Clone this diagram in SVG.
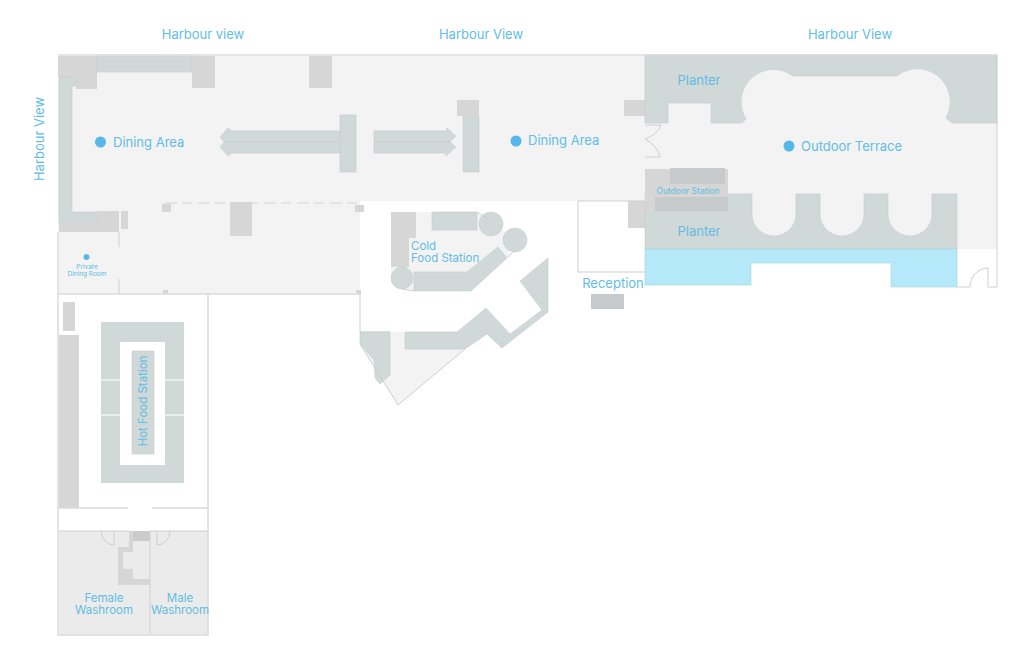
<svg xmlns="http://www.w3.org/2000/svg" width="1028" height="663" viewBox="0 0 1028 663">
<style>
.floor{fill:#f3f3f3}
.teal{fill:#d0d8d8;stroke:#c6cece;stroke-width:.6}
.grey{fill:#d6d6d6}
.dark{fill:#c6caca}
.wall{fill:none;stroke:#cdcfcf;stroke-width:1}
.wallb{fill:none;stroke:#dadbdb;stroke-width:1.5}
.t{font-family:"Inter","Liberation Sans",sans-serif;fill:#62bde4;font-size:13px}
.m{text-anchor:middle}
.dot{fill:#55b8e8}
</style>
<rect width="1028" height="663" fill="#fff"/>
<g id="floors">
<path class="floor" d="M58 56H645V201H360V294H119V232H58Z"/>
<rect class="floor" x="59" y="232" width="60" height="62"/>
<rect class="floor" x="645" y="56" width="352" height="193"/>
<path class="floor" d="M391 212H477L491 221L515 240L507 258L471 291H414L402 289Q393 287 391 278Z"/>
<path class="floor" d="M360 332H405V349H465L398 405L360 344Z"/>
<rect x="59" y="531" width="149" height="104" fill="#ebebeb"/>
</g>
<g id="structure">
<path class="grey" d="M58 56H97V89H76V77H58Z"/>
<rect class="teal" x="97" y="56" width="95" height="16"/>
<rect class="grey" x="192" y="56" width="23" height="32"/>
<rect class="grey" x="309" y="56" width="23" height="32"/>
<path class="teal" d="M59 77H76V86H72V212H97V222H59Z"/>
<path class="grey" d="M97 211H119V232H59V222H97Z"/>
<rect class="grey" x="121" y="211" width="7" height="18"/>
<rect class="grey" x="162" y="204" width="9" height="8"/>
<rect class="grey" x="355" y="205" width="9" height="7"/>
<rect class="grey" x="230" y="202" width="22" height="34"/>
<rect class="grey" x="163" y="290" width="5" height="4"/>
<rect class="grey" x="356" y="290" width="5" height="4"/>
<path d="M165 203H360" fill="none" stroke="#d6d6d6" stroke-width="1.200" stroke-dasharray="12 5 10 6"/>
<path class="teal" d="M220 137L228 128L232 131H340V153H232L228 156L220 147L224 142Z"/>
<path class="teal" d="M224 142H340" fill="none"/>
<rect class="teal" x="340" y="115" width="16" height="57"/>
<path class="teal" d="M374 131H446L447 128L456 136L450 142L456 147L446 156L445 153H374Z"/>
<path class="teal" d="M374 142H450" fill="none"/>
<rect class="teal" x="463" y="116" width="16" height="56"/>
<rect class="grey" x="457" y="100" width="22" height="16"/>
<rect class="grey" x="624" y="100" width="21" height="16"/>
<rect class="grey" x="628" y="201" width="17" height="27"/>
<rect class="dark" x="591" y="294" width="33" height="15"/>
</g>
<g id="terrace">
<path class="teal" d="M645 55H997V123H952L946 118A33 33 0 0 0 898 75L897 76H793A32.400 32.400 0 0 0 746 119L742 123H711V103H668V123H645Z"/>
<path class="teal" d="M645 194H752V214A22 22 0 0 0 796 214V194H820V214A22 22 0 0 0 864 214V194H888V214A22 22 0 0 0 932 214V194H957V249H645Z"/>
<rect class="grey" x="645" y="169" width="83" height="42"/>
<rect class="dark" x="670" y="168" width="55" height="16"/>
<rect class="dark" x="655" y="197" width="73" height="14"/>
<path d="M645 249H957V287H891V263H751V285H645Z" fill="#b5e9fa" stroke="#a9d3e0" stroke-width=".6"/>
</g>
<g id="cold-food">
<rect class="grey" x="391" y="212" width="25" height="26"/>
<rect class="grey" x="391" y="238" width="18" height="29"/>
<rect class="teal" x="432" y="212" width="45" height="18"/>
<circle class="teal" cx="491" cy="224" r="12"/>
<circle class="teal" cx="515" cy="240" r="12"/>
<circle class="teal" cx="402" cy="278" r="11"/>
<path class="teal" d="M414 272H467L498 247L507 258L471 291H414Z"/>
</g>
<g id="lower-bay">
<path class="teal" d="M360 332H390V375L380 384L375 378L374 360L360 344Z"/>
<path class="teal" d="M405 332H457L486 308L510 334L542 310L520 281L548 258V312L502 348L487 334L465 349H405Z"/>
</g>
<g id="hot-food">
<rect class="grey" x="63" y="302" width="12" height="29"/>
<rect class="grey" x="59" y="335" width="20" height="173"/>
<path d="M101 322H184V483H101ZM120 342V465H165V342Z" fill="#d0d8d8" fill-rule="evenodd"/>
<path d="M101 380H120M165 380H184M101 415H120M165 415H184" stroke="#fff" stroke-width="1" fill="none"/>
<rect class="teal" x="132" y="351" width="22" height="103"/>
</g>
<g id="washrooms">
<path class="grey" d="M129 531V547H118V585H150V579H133V569H123V552H133V541H150V531Z"/>
<rect fill="#cbcbcb" x="133" y="531" width="17" height="10"/>
<path class="wall" d="M59 531H129M150 531H208M150 531V635M114 531V545A13 14 0 0 1 101 531M157 531V545A13 14 0 0 0 170 531"/>
</g>
<g id="walls">
<path class="wallb" d="M58 55H997"/>
<path class="wallb" d="M58 232V635H208V294H58M119 294H360"/>
<path class="wall" d="M119 232V247M119 279V294M360 294V332M360 332H390M360 344L398 405L465 349"/>
<path class="wall" d="M997 55V287H988V268A18 19 0 0 0 970 287H957"/>
<path class="wall" d="M578 201V272H645M578 201H645"/>
<path class="wall" d="M645 125H661Q657 135 645 139Q657 145 660 157H645"/>
<path class="wallb" d="M59 508H128M152 508H208"/>
<path class="wall" d="M477 212L491 221M507 258L515 250M402 289L414 291"/>
</g>
<g id="labels">
<text class="t m" x="203" y="39">Harbour view</text>
<text class="t m" x="481" y="39">Harbour View</text>
<text class="t m" x="850" y="39">Harbour View</text>
<text class="t m" transform="translate(44 139) rotate(-90)">Harbour View</text>
<circle class="dot" cx="100.500" cy="142" r="5.500"/>
<text class="t" x="113" y="147">Dining Area</text>
<circle class="dot" cx="516" cy="141" r="5.500"/>
<text class="t" x="528" y="145">Dining Area</text>
<circle class="dot" cx="789" cy="146" r="5.500"/>
<text class="t" x="801" y="151">Outdoor Terrace</text>
<text class="t m" x="699" y="85">Planter</text>
<text class="t m" x="699" y="236">Planter</text>
<text class="t m" x="688" y="194" style="font-size:8.500px">Outdoor Station</text>
<circle class="dot" cx="86.500" cy="257" r="3"/>
<text class="t m" x="87" y="269" style="font-size:6.500px">Private</text>
<text class="t m" x="87" y="276" style="font-size:6.500px">Dining Room</text>
<text class="t" x="411" y="250" style="font-size:11.500px">Cold</text>
<text class="t" x="411" y="262" style="font-size:11.500px">Food Station</text>
<text class="t m" x="613" y="288">Reception</text>
<text class="t m" transform="translate(147 401) rotate(-90)" style="font-size:11.500px">Hot Food Station</text>
<text class="t m" x="104" y="602" style="font-size:11.500px">Female</text>
<text class="t m" x="104" y="614" style="font-size:11.500px">Washroom</text>
<text class="t m" x="180" y="602" style="font-size:11.500px">Male</text>
<text class="t m" x="180" y="614" style="font-size:11.500px">Washroom</text>
</g>
</svg>
